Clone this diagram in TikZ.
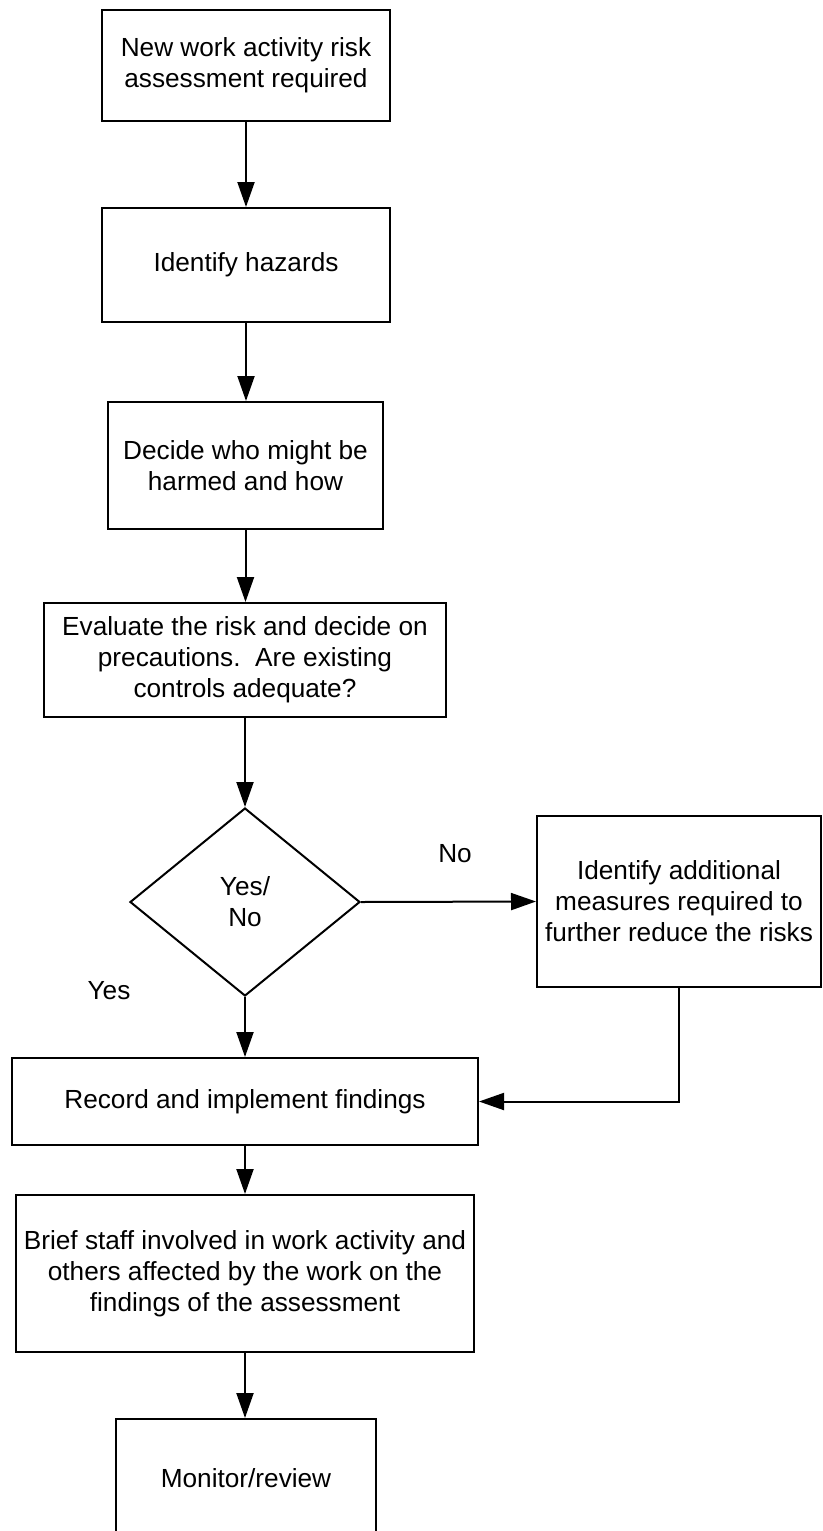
\documentclass[tikz,border=0pt]{standalone}
\usepackage{fontspec}
\setmainfont{Liberation Sans}
\usetikzlibrary{arrows.meta,shapes.geometric}
\begin{document}
\begin{tikzpicture}[x=1pt,y=-1pt,
  every node/.style={font=\fontsize{26.2}{31}\selectfont, align=center, inner sep=0pt},
  stepbox/.style={draw, line width=2pt, rectangle},
  choice/.style={draw, line width=2pt, diamond},
  flow/.style={line width=2pt, -{Triangle[length=25pt,width=17pt]}},
  lbl/.style={}]
  \useasboundingbox (0,0) rectangle (822,1531);
  \clip (0,0) rectangle (822,1531);

  \node[stepbox, minimum width=288pt, minimum height=111pt] (b1) at (246,65.5)
    {New work activity risk\\assessment required};
  \node[stepbox, minimum width=288pt, minimum height=114pt] (b2) at (246,265)
    {Identify hazards};
  \node[stepbox, minimum width=275pt, minimum height=127pt] (b3) at (245.5,465.5)
    {Decide who might be\\harmed and how};
  \node[stepbox, minimum width=402pt, minimum height=114pt] (b4) at (245,660)
    {Evaluate the risk and decide on\\precautions.\ \ Are existing\\controls adequate?};
  \node[choice, minimum width=230pt, minimum height=188pt] (d) at (245,902)
    {Yes/\\No};
  \node[stepbox, minimum width=284pt, minimum height=171pt] (b5) at (679,901.5)
    {Identify additional\\measures required to\\further reduce the risks};
  \node[stepbox, minimum width=466pt, minimum height=87pt] (b6) at (245,1101.5)
    {Record and implement findings};
  \node[stepbox, minimum width=458pt, minimum height=157pt] (b7) at (245,1273.5)
    {Brief staff involved in work activity and\\others affected by the work on the\\findings of the assessment};
  \node[stepbox, minimum width=260pt, minimum height=118pt] (b8) at (246,1478)
    {Monitor/review};

  \node[lbl] (no) at (455,854) {No};
  \node[lbl] (yes) at (109,991) {Yes};

  % vertical connectors drop straight down from each box
  \draw[flow] (b1.south) -- (b1.south |- b2.north);
  \draw[flow] (b2.south) -- (b2.south |- b3.north);
  \draw[flow] (b3.south) -- (b3.south |- b4.north);
  \draw[flow] (b4.south) -- (d.north);
  \draw[flow] (d.east) -- (b5.west);
  \draw[flow] (d.south) -- (b6.north);
  \draw[flow] (b5.south) |- (b6.east);
  \draw[flow] (b6.south) -- (b7.north);
  \draw[flow] (b7.south) -- (b7.south |- b8.north);
\end{tikzpicture}
\end{document}
